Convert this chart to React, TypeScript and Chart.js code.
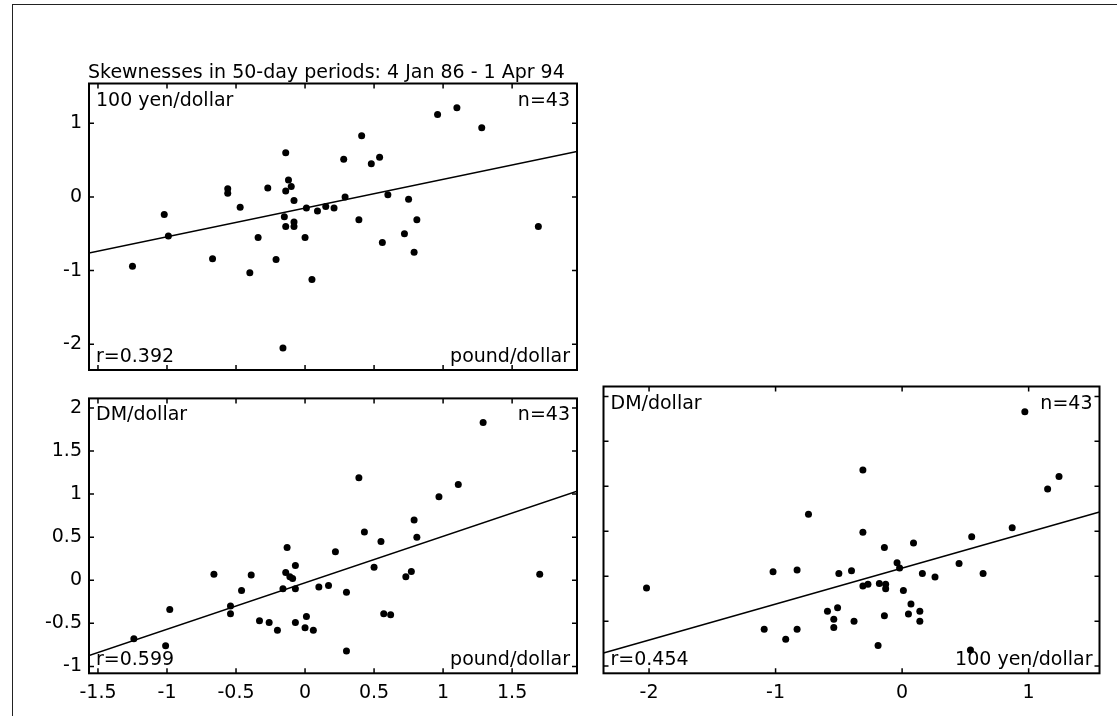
import React, { useEffect, useRef } from "react";
import { Chart, registerables } from "chart.js";

Chart.register(...registerables);

const FONT = "'DejaVu Sans', 'Liberation Sans', sans-serif";

// ---- data: panel 1 (x = pound/dollar, y = 100 yen/dollar)
const poundA = [-1.25, -1.02, -0.99, -0.67, -0.56, -0.56, -0.47, -0.4, -0.34, -0.27, -0.21, -0.16, -0.14, -0.12, -0.1, -0.14, -0.08, -0.15, -0.14, -0.08, -0.08, 0.0, 0.01, 0.05, 0.09, 0.15, 0.21, 0.28, 0.29, 0.39, 0.41, 0.48, 0.54, 0.56, 0.6, 0.72, 0.75, 0.79, 0.81, 0.96, 1.1, 1.28, 1.69];
const yenA = [-0.94, -0.24, -0.53, -0.84, 0.11, 0.05, -0.14, -1.03, -0.55, 0.12, -0.85, -2.05, 0.6, 0.23, 0.14, 0.08, -0.05, -0.27, -0.4, -0.34, -0.4, -0.55, -0.15, -1.12, -0.19, -0.13, -0.15, 0.51, 0.0, -0.31, 0.83, 0.45, 0.54, -0.62, 0.03, -0.5, -0.03, -0.75, -0.31, 1.12, 1.21, 0.94, -0.4];

// ---- data: panel 2 (x = pound/dollar, y = DM/dollar)
const poundB = [-1.24, -1.01, -0.98, -0.66, -0.54, -0.54, -0.46, -0.39, -0.33, -0.26, -0.2, -0.16, -0.13, -0.14, -0.11, -0.09, -0.07, -0.07, -0.07, 0.01, 0.0, 0.06, 0.1, 0.17, 0.22, 0.3, 0.3, 0.39, 0.43, 0.5, 0.55, 0.57, 0.62, 0.73, 0.77, 0.79, 0.81, 0.97, 1.11, 1.29, 1.7];
const dmB = [-0.68, -0.76, -0.34, 0.07, -0.3, -0.39, -0.12, 0.06, -0.47, -0.49, -0.58, -0.1, 0.38, 0.09, 0.04, 0.02, 0.17, -0.1, -0.49, -0.42, -0.55, -0.58, -0.08, -0.06, 0.33, -0.14, -0.82, 1.19, 0.56, 0.15, 0.45, -0.39, -0.4, 0.04, 0.1, 0.7, 0.5, 0.97, 1.11, 1.83, 0.07];

// ---- data: panel 3 (x = 100 yen/dollar, y = DM/dollar)
const yenC = [-2.02, -1.09, -1.02, -0.92, -0.83, -0.83, -0.74, -0.59, -0.51, -0.54, -0.54, -0.5, -0.4, -0.38, -0.31, -0.31, -0.31, -0.27, -0.19, -0.18, -0.14, -0.14, -0.13, -0.13, -0.04, -0.02, 0.01, 0.05, 0.07, 0.09, 0.14, 0.14, 0.16, 0.26, 0.45, 0.55, 0.64, 0.87, 0.97, 1.15, 1.24, 0.54];
const dmC = [-0.13, -0.59, 0.05, -0.7, 0.07, -0.59, 0.69, -0.39, -0.35, -0.48, -0.57, 0.03, 0.06, -0.5, 1.18, 0.49, -0.11, -0.09, -0.77, -0.08, 0.32, -0.44, -0.09, -0.14, 0.15, 0.09, -0.16, -0.42, -0.31, 0.37, -0.39, -0.5, 0.03, -0.01, 0.14, 0.44, 0.03, 0.54, 1.83, 0.97, 1.11, -0.82];

// regression lines (slope, intercept)
const fitA = { m: 0.39, b: -0.15 };
const fitB = { m: 0.54, b: -0.03 };
const fitC = { m: 0.4, b: 0.09 };

// ticks
const poundTicks = [-1.5, -1, -0.5, 0, 0.5, 1, 1.5];
const poundTickLabels = ["-1.5", "-1", "-0.5", "0", "0.5", "1", "1.5"];
const yenTopTicks = [-2, -1, 0, 1];
const yenTopTickLabels = ["-2", "-1", "0", "1"];
const dmTicks = [-1, -0.5, 0, 0.5, 1, 1.5, 2];
const dmTickLabels = ["-1", "-0.5", "0", "0.5", "1", "1.5", "2"];
const yenTicks = [-2, -1, 0, 1];
const yenTickLabels = ["-2", "-1", "0", "1"];

const TITLE = "Skewnesses in 50-day periods: 4 Jan 86 - 1 Apr 94";

type PanelProps = {
  left: number; top: number; width: number; height: number;
  area: { l: number; t: number; r: number; b: number };
  xRange: [number, number]; yRange: [number, number];
  xTicks: number[]; xLabels: string[]; showX: boolean;
  yTicks: number[]; yLabels: string[]; showY: boolean;
  xs: number[]; ys: number[]; fit: { m: number; b: number };
  texts: { tl: string; tr: string; bl: string; br: string };
  title?: string;
};

function Panel(p: PanelProps) {
  const ref = useRef<HTMLCanvasElement | null>(null);
  useEffect(() => {
    if (!ref.current) return;
    const boxPlugin = {
      id: "boxPlugin",
      afterDraw(chart: any) {
        const ctx = chart.ctx as CanvasRenderingContext2D;
        const a = chart.chartArea;
        const xs = chart.scales.x;
        const ys = chart.scales.y;
        ctx.save();
        ctx.strokeStyle = "#000";
        ctx.lineWidth = 2;
        ctx.strokeRect(a.left, a.top, a.right - a.left, a.bottom - a.top);
        ctx.lineWidth = 1.5;
        const tl = 5;
        ctx.beginPath();
        p.xTicks.forEach((v) => {
          const px = xs.getPixelForValue(v);
          ctx.moveTo(px, a.bottom); ctx.lineTo(px, a.bottom - tl);
          ctx.moveTo(px, a.top); ctx.lineTo(px, a.top + tl);
        });
        p.yTicks.forEach((v) => {
          const py = ys.getPixelForValue(v);
          ctx.moveTo(a.left, py); ctx.lineTo(a.left + tl, py);
          ctx.moveTo(a.right, py); ctx.lineTo(a.right - tl, py);
        });
        ctx.stroke();
        ctx.fillStyle = "#000";
        ctx.font = `19px ${FONT}`;
        ctx.textBaseline = "alphabetic";
        ctx.textAlign = "left";
        ctx.fillText(p.texts.tl, a.left + 7, a.top + 22);
        ctx.fillText(p.texts.bl, a.left + 7, a.bottom - 8);
        ctx.textAlign = "right";
        ctx.fillText(p.texts.tr, a.right - 7, a.top + 22);
        ctx.fillText(p.texts.br, a.right - 7, a.bottom - 8);
        if (p.title) {
          ctx.textAlign = "left";
          ctx.font = `19px ${FONT}`;
          ctx.fillText(p.title, a.left - 1, a.top - 5.5);
        }
        ctx.restore();
      },
    };
    const [x0, x1] = p.xRange;
    const chart = new Chart(ref.current, {
      type: "scatter",
      data: {
        datasets: [
          {
            type: "scatter",
            data: p.xs.map((x, i) => ({ x, y: p.ys[i] })),
            pointRadius: 3.5,
            pointBackgroundColor: "#000",
            pointBorderWidth: 0,
          } as any,
          {
            type: "line",
            data: [
              { x: x0, y: p.fit.b + p.fit.m * x0 },
              { x: x1, y: p.fit.b + p.fit.m * x1 },
            ],
            borderColor: "#000",
            borderWidth: 1.5,
            pointRadius: 0,
            fill: false,
          } as any,
        ],
      },
      options: {
        animation: false,
        responsive: false,
        maintainAspectRatio: false,
        devicePixelRatio: 1,
        layout: { padding: { left: 0, top: p.area.t, right: p.width - p.area.r, bottom: 0 } },
        plugins: { legend: { display: false }, tooltip: { enabled: false }, title: { display: false } },
        scales: {
          x: {
            type: "linear",
            min: p.xRange[0],
            max: p.xRange[1],
            grid: { display: false, drawTicks: false },
            border: { display: false },
            ticks: {
              display: p.showX,
              padding: 8,
              color: "#000",
              font: { size: 19, family: FONT },
              maxRotation: 0,
              autoSkip: false,
              callback: (_v: any, i: number) => p.xLabels[i],
            },
            afterBuildTicks: (s: any) => { s.ticks = p.xTicks.map((v) => ({ value: v })); },
            afterFit: (s: any) => { s.height = p.height - p.area.b; },
          } as any,
          y: {
            type: "linear",
            min: p.yRange[0],
            max: p.yRange[1],
            grid: { display: false, drawTicks: false },
            border: { display: false },
            ticks: {
              display: p.showY,
              padding: 7,
              color: "#000",
              font: { size: 19, family: FONT },
              autoSkip: false,
              callback: (_v: any, i: number) => p.yLabels[i],
            },
            afterBuildTicks: (s: any) => { s.ticks = p.yTicks.map((v) => ({ value: v })); },
            afterFit: (s: any) => { s.width = p.area.l; },
          } as any,
        },
      },
      plugins: [boxPlugin],
    });
    return () => chart.destroy();
  }, []);
  return (
    <canvas
      ref={ref}
      width={p.width}
      height={p.height}
      style={{ position: "absolute", left: p.left, top: p.top, width: p.width, height: p.height }}
    />
  );
}

export default function App() {
  return (
    <div style={{ position: "absolute", left: 0, top: 0, width: 1117, height: 716, background: "#fff", overflow: "hidden" }}>
      <div style={{ position: "absolute", left: 12, top: 4, width: 1105, height: 0, borderTop: "1.5px solid #222" }} />
      <div style={{ position: "absolute", left: 12, top: 4, width: 0, height: 712, borderLeft: "1.5px solid #222" }} />
      <Panel
        left={0} top={60} width={600} height={330}
        area={{ l: 89, t: 23.5, r: 577, b: 310 }}
        xRange={[-1.565, 1.97]} yRange={[-2.35, 1.54]}
        xTicks={poundTicks} xLabels={poundTickLabels} showX={false}
        yTicks={yenTopTicks} yLabels={yenTopTickLabels} showY={true}
        xs={poundA} ys={yenA} fit={fitA}
        texts={{ tl: "100 yen/dollar", tr: "n=43", bl: "r=0.392", br: "pound/dollar" }}
        title={TITLE}
      />
      <Panel
        left={0} top={380} width={600} height={336}
        area={{ l: 89, t: 6.5, r: 577, b: 293.3 }}
        xRange={[-1.565, 1.97]} yRange={[-1.08, 2.11]}
        xTicks={poundTicks} xLabels={poundTickLabels} showX={true}
        yTicks={dmTicks} yLabels={dmTickLabels} showY={true}
        xs={poundB} ys={dmB} fit={fitB}
        texts={{ tl: "DM/dollar", tr: "n=43", bl: "r=0.599", br: "pound/dollar" }}
      />
      <Panel
        left={590} top={380} width={527} height={336}
        area={{ l: 13.5, t: 6.5, r: 509.5, b: 293.3 }}
        xRange={[-2.36, 1.56]} yRange={[-1.08, 2.11]}
        xTicks={yenTicks} xLabels={yenTickLabels} showX={true}
        yTicks={dmTicks} yLabels={dmTickLabels} showY={false}
        xs={yenC} ys={dmC} fit={fitC}
        texts={{ tl: "DM/dollar", tr: "n=43", bl: "r=0.454", br: "100 yen/dollar" }}
      />
    </div>
  );
}
